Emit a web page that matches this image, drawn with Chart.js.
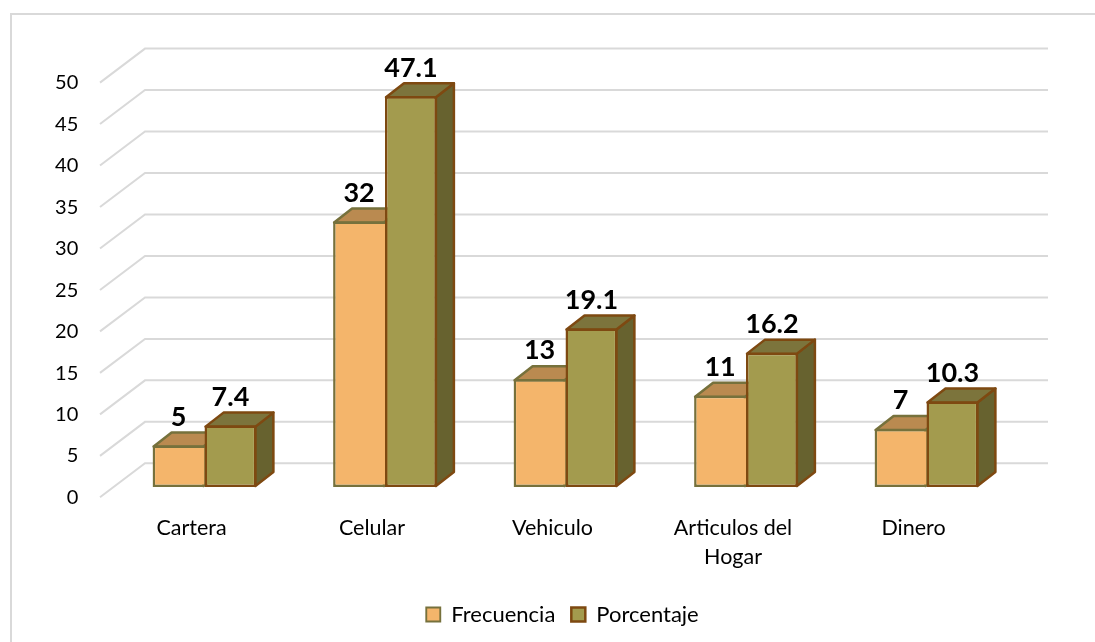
<!DOCTYPE html>
<html>
<head>
<meta charset="utf-8">
<title>Frecuencia y porcentaje</title>
<script src="https://cdn.jsdelivr.net/npm/chart.js@4/dist/chart.umd.js"></script>
<style>
	body { margin: 0; background: #fff; }
	canvas { display: block; }
</style>
</head>
<body>
<canvas id="chart" width="1095" height="642"></canvas>
<script>
var categories = ["Cartera", "Celular", "Vehiculo", ["Articulos del", "Hogar"], "Dinero"];
var frecuencia = [5, 32, 13, 11, 7];
var porcentaje = [7.4, 47.1, 19.1, 16.2, 10.3];
var porcentajeLabels = ["7.4", "47.1", "19.1", "16.2", "10.3"];
var yMax = 50;
var yStep = 5;

var FONT = "Lato, Carlito, sans-serif";

// depth of the bars, and of the floor / back wall
var BAR_DX = 18, BAR_DY = 14;
var WALL_LEFT = 100, WALL_BACK = 145, WALL_RIGHT = 1048;
var WALL_FRONT_DY = 10.3, WALL_BACK_DY = 23.7;

var faces = [
	{ top: "#ba8a50", side: "#a87c45", line: "#76713c" },
	{ top: "#7c743c", side: "#67622f", line: "#7e4911" }
];

function drawFaces(c, bar, f) {
	var l = bar.x - bar.width / 2 + 1;
	var r = bar.x + bar.width / 2 - 1;
	var t = bar.y + 1;
	var b = bar.base - 1;

	c.strokeStyle = f.line;
	c.fillStyle = f.side;
	c.beginPath();
	c.moveTo(r, t);
	c.lineTo(r + BAR_DX, t - BAR_DY);
	c.lineTo(r + BAR_DX, b - BAR_DY);
	c.lineTo(r, b);
	c.closePath();
	c.fill();
	c.stroke();

	c.fillStyle = f.top;
	c.beginPath();
	c.moveTo(l, t);
	c.lineTo(l + BAR_DX, t - BAR_DY);
	c.lineTo(r + BAR_DX, t - BAR_DY);
	c.lineTo(r, t);
	c.closePath();
	c.fill();
	c.stroke();
}

var fake3d = {
	id: "fake3d",
	afterLayout: function(chart) {
		// legend sits a little left of the plot centre
		chart.legend.left -= 6;
	},
	beforeDraw: function(chart) {
		var c = chart.ctx;
		var y = chart.scales.y;

		c.save();
		c.strokeStyle = "#d9d9d9";
		c.lineWidth = 2;

		// only the top and left of the frame are in the picture
		c.beginPath();
		c.moveTo(11, 642);
		c.lineTo(11, 14);
		c.lineTo(1095, 14);
		c.stroke();

		y.ticks.forEach(function(t) {
			var p = y.getPixelForValue(t.value);
			c.beginPath();
			c.moveTo(WALL_LEFT, p + WALL_FRONT_DY);
			c.lineTo(WALL_BACK, p - WALL_BACK_DY);
			c.lineTo(WALL_RIGHT, p - WALL_BACK_DY);
			c.stroke();
		});
		c.restore();
	},
	beforeDatasetsDraw: function(chart) {
		var c = chart.ctx;

		// all tops and sides first, the fronts of the bars then cover them
		c.save();
		c.lineWidth = 2.5;
		c.lineJoin = "round";
		chart.data.datasets.forEach(function(ds, i) {
			chart.getDatasetMeta(i).data.forEach(function(bar) {
				drawFaces(c, bar, faces[i]);
			});
		});
		c.restore();
	},
	afterDatasetsDraw: function(chart) {
		var c = chart.ctx;

		c.save();
		c.fillStyle = "#000";
		c.font = "bold 27px " + FONT;
		c.textAlign = "center";
		c.textBaseline = "middle";
		chart.data.datasets.forEach(function(ds, i) {
			chart.getDatasetMeta(i).data.forEach(function(bar, j) {
				var txt = i == 0 ? "" + ds.data[j] : porcentajeLabels[j];
				c.fillText(txt, bar.x, bar.y - 28.5);
			});
		});
		c.restore();
	}
};

new Chart(document.getElementById("chart"), {
	type: "bar",
	data: {
		labels: categories,
		datasets: [
			{
				label: "Frecuencia",
				data: frecuencia,
				backgroundColor: "#f4b56b",
				borderColor: faces[0].line,
				borderWidth: { top: 2.5, left: 2.5, bottom: 2.5, right: 0 },
				borderSkipped: false
			},
			{
				label: "Porcentaje",
				data: porcentaje,
				backgroundColor: "#a39b4e",
				borderColor: faces[1].line,
				borderWidth: 2.5,
				borderSkipped: false
			}
		]
	},
	options: {
		responsive: false,
		animation: false,
		devicePixelRatio: 1,
		categoryPercentage: 0.575,
		barPercentage: 1,
		layout: { padding: { left: 31, top: 72.3, right: 78.25, bottom: 6.5 } },
		scales: {
			x: {
				grid: { display: false, drawTicks: false },
				border: { display: false },
				afterFit: function(s) { s.height = 100.5; },
				ticks: {
					color: "#000",
					font: { family: FONT, size: 21.5, lineHeight: 1.35 },
					padding: 27,
					labelOffset: -13,
					maxRotation: 0,
					autoSkip: false
				}
			},
			y: {
				min: 0,
				max: yMax,
				grid: { display: false, drawTicks: false },
				border: { display: false },
				afterFit: function(s) { s.width = 83.25; },
				ticks: {
					stepSize: yStep,
					color: "#000",
					font: { family: FONT, size: 20 },
					padding: 36,
					labelOffset: 10.5
				}
			}
		},
		plugins: {
			tooltip: { enabled: false },
			legend: {
				position: "bottom",
				fullSize: false,
				labels: {
					color: "#000",
					font: { family: FONT, size: 22 },
					boxWidth: 14,
					boxHeight: 14,
					padding: 16
				}
			}
		}
	},
	plugins: [fake3d]
});
</script>
</body>
</html>
